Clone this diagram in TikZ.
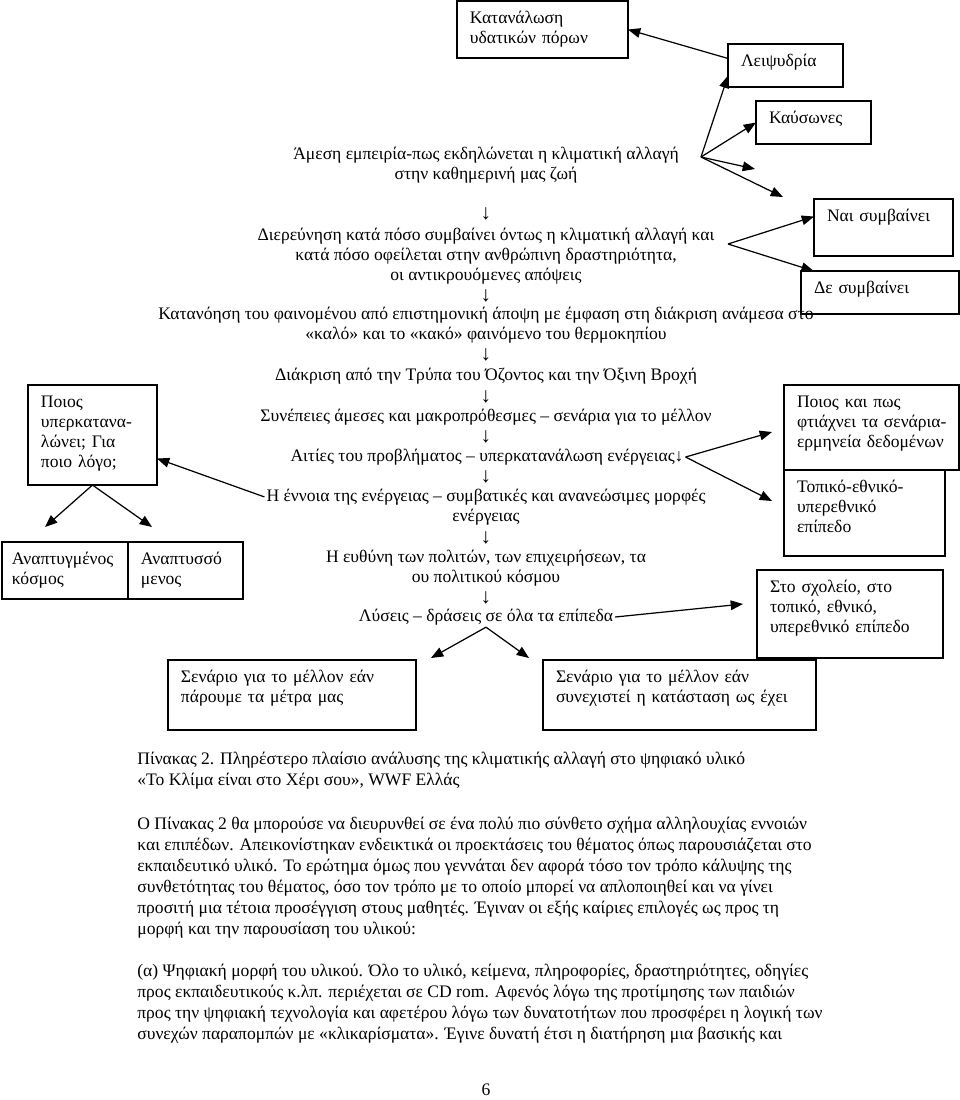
\documentclass[tikz,border=0pt]{standalone}
\usepackage{fontspec}
\setmainfont{Liberation Serif}
\usepackage{tikz}
\usetikzlibrary{arrows.meta, positioning, calc}
\newcommand{\diagfont}{\fontsize{10pt}{11.4pt}\selectfont}
\newcommand{\bodyfont}{\fontsize{10pt}{12pt}\selectfont}
\tikzset{
  cell/.style={rectangle, draw, line width=0.75pt, anchor=north west, align=left,
    inner xsep=0.26cm, inner ysep=0.16cm, outer sep=0pt, text height=8pt, font=\diagfont},
  stage/.style={align=center, inner sep=1pt, font=\diagfont},
  down/.style={inner sep=0pt, font=\fontsize{12pt}{12pt}\selectfont},
  para/.style={anchor=base west, inner sep=0pt, font=\bodyfont},
  arrow/.style={-{Triangle[length=7pt,width=5.5pt]}, line width=0.7pt}
}

\begin{document}
\begin{tikzpicture}[x=0.02cm, y=-0.02cm]
  \useasboundingbox (0,0) rectangle (960,1100);

  % Main column
  \node[stage] (amesi) at (486,165) {Άμεση εμπειρία-πως εκδηλώνεται η κλιματική αλλαγή\\στην καθημερινή μας ζωή};
  \node[down] (d1) at (486,214) {↓};
  \node[stage] (dier) at (486,256) {Διερεύνηση κατά πόσο συμβαίνει όντως η κλιματική αλλαγή και\\κατά πόσο οφείλεται στην ανθρώπινη δραστηριότητα,\\οι αντικρουόμενες απόψεις};
  \node[down] (d2) at (486,296) {↓};
  \node[stage] (katanoisi) at (486,325) {Κατανόηση του φαινομένου από επιστημονική άποψη με έμφαση στη διάκριση ανάμεσα στο\\«καλό» και το «κακό» φαινόμενο του θερμοκηπίου};
  \node[down] (d3) at (486,355) {↓};
  \node[stage] (diakrisi) at (486,376) {Διάκριση από την Τρύπα του Όζοντος και την Όξινη Βροχή};
  \node[down] (d4) at (486,397) {↓};
  \node[stage] (synepeies) at (486,417) {Συνέπειες άμεσες και μακροπρόθεσμες – σενάρια για το μέλλον};
  \node[down] (d5) at (486,437) {↓};
  \node[stage] (aities) at (487,457) {Αιτίες του προβλήματος – υπερκατανάλωση ενέργειας↓};
  \node[down] (d6) at (486,477) {↓};
  \node[stage] (ennoia) at (486,507) {Η έννοια της ενέργειας – συμβατικές και ανανεώσιμες μορφές\\ενέργειας};
  \node[down] (d7) at (486,538) {↓};
  \node[stage] (efthyni) at (486,568) {Η ευθύνη των πολιτών, των επιχειρήσεων, τα\\ου πολιτικού κόσμου};
  \node[down] (d8) at (486,598) {↓};
  \node[stage] (lyseis) at (486,617) {Λύσεις – δράσεις σε όλα τα επίπεδα};

  % Boxes
  \node[cell, text width=2.9cm, text depth=0.54cm] (katan) at (457,1) {Κατανάλωση\\υδατικών πόρων};
  \node[cell, text width=1.78cm, text depth=0.26cm] (leips) at (728,44) {Λειψυδρία};
  \node[cell, text width=1.78cm, text depth=0.26cm] (kafs) at (756,101) {Καύσωνες};
  \node[cell, text width=2.26cm, text depth=0.54cm] (nai) at (814,199) {Ναι συμβαίνει};
  \node[cell, text width=2.64cm, text depth=0.26cm] (de) at (801,271) {Δε συμβαίνει};
  \node[cell, text width=2.06cm, text depth=1.4cm] (poios) at (28,385) {Ποιος\\\mbox{υπερκατανα-}\\\mbox{λώνει; Για}\\\mbox{ποιο λόγο;}};
  \node[cell, text width=2.12cm, text depth=0.54cm, inner xsep=0.2cm] (anapt) at (2,542) {\mbox{Αναπτυγμένος}\\κόσμος};
  \node[cell, text width=1.78cm, text depth=0.54cm] (anaptsso) at (anapt.north east) {\mbox{Αναπτυσσό}\\μενος};
  \node[cell, text width=2.98cm, text depth=1.1cm] (poioskai) at (784,385) {\mbox{Ποιος και πως}\\\mbox{φτιάχνει τα σενάρια-}\\\mbox{ερμηνεία δεδομένων}};
  \node[cell, text width=2.7cm, text depth=1.12cm] (topiko) at (784,470) {\mbox{Τοπικό-εθνικό-}\\υπερεθνικό\\επίπεδο};
  \node[cell, text width=3.2cm, text depth=1.16cm] (sxoleio) at (757,570) {\mbox{Στο σχολείο, στο}\\\mbox{τοπικό, εθνικό,}\\\mbox{υπερεθνικό επίπεδο}};
  \node[cell, text width=4.44cm, text depth=0.8cm] (senA) at (168,660) {\mbox{Σενάριο για το μέλλον εάν}\\\mbox{πάρουμε τα μέτρα μας}};
  \node[cell, text width=4.94cm, text depth=0.8cm] (senB) at (543,660) {\mbox{Σενάριο για το μέλλον εάν}\\\mbox{συνεχιστεί η κατάσταση ως έχει}};

  % Free ends and fan points
  \coordinate (fanA) at (701,157);
  \coordinate (fanB) at (728,244);
  \coordinate (tipA1) at (755,169);
  \coordinate (tipA2) at (783,197);
  \coordinate (tipC1) at (772,432);
  \coordinate (tipC2) at (772,501);
  \coordinate (tipD) at (743,604);
  \coordinate (tipE1) at (431,658);
  \coordinate (tipE2) at (529,658);
  \coordinate (tipF1) at (45,527);
  \coordinate (tipF2) at (152,527);

  % Arrows
  \draw[arrow] (fanA) -- (leips.190);
  \draw[arrow] (fanA) -- (kafs.west);
  \draw[arrow] (fanA) -- (tipA1);
  \draw[arrow] (fanA) -- (tipA2);
  \draw[arrow] (leips.173) -- (katan.east);
  \draw[arrow] (fanB) -- (nai.171);
  \draw[arrow] (fanB) -- (de.162);
  \draw[arrow] ($(ennoia.north west)!0.25!(ennoia.south west)$) -- (poios.340);
  \draw[arrow] (aities.east) -- (tipC1);
  \draw[arrow] (aities.east) -- (tipC2);
  \draw[arrow] (lyseis.east) -- (tipD);
  \draw[arrow] (lyseis.south) -- (tipE1);
  \draw[arrow] (lyseis.south) -- (tipE2);
  \draw[arrow] (poios.south) -- (tipF1);
  \draw[arrow] (poios.south) -- (tipF2);

  % Caption and text
  \node[para] (cap1) at (137,764) {Πίνακας 2. Πληρέστερο πλαίσιο ανάλυσης της κλιματικής αλλαγή στο ψηφιακό υλικό};
  \node[para] (cap2) at (137,785) {«Το Κλίμα είναι στο Χέρι σου», WWF Ελλάς};
  \node[para] (p1) at (137,829) {Ο Πίνακας 2 θα μπορούσε να διευρυνθεί σε ένα πολύ πιο σύνθετο σχήμα αλληλουχίας εννοιών};
  \node[para] (p2) at (137,850) {και επιπέδων. Απεικονίστηκαν ενδεικτικά οι προεκτάσεις του θέματος όπως παρουσιάζεται στο};
  \node[para] (p3) at (137,871) {εκπαιδευτικό υλικό. Το ερώτημα όμως που γεννάται δεν αφορά τόσο τον τρόπο κάλυψης της};
  \node[para] (p4) at (137,892) {συνθετότητας του θέματος, όσο τον τρόπο με το οποίο μπορεί να απλοποιηθεί και να γίνει};
  \node[para] (p5) at (137,913) {προσιτή μια τέτοια προσέγγιση στους μαθητές. Έγιναν οι εξής καίριες επιλογές ως προς τη};
  \node[para] (p6) at (137,934) {μορφή και την παρουσίαση του υλικού:};
  \node[para] (q1) at (137,976) {(α) Ψηφιακή μορφή του υλικού. Όλο το υλικό, κείμενα, πληροφορίες, δραστηριότητες, οδηγίες};
  \node[para] (q2) at (137,997) {προς εκπαιδευτικούς κ.λπ. περιέχεται σε CD rom. Αφενός λόγω της προτίμησης των παιδιών};
  \node[para] (q3) at (137,1018) {προς την ψηφιακή τεχνολογία και αφετέρου λόγω των δυνατοτήτων που προσφέρει η λογική των};
  \node[para] (q4) at (137,1039) {συνεχών παραπομπών με «κλικαρίσματα». Έγινε δυνατή έτσι η διατήρηση μια βασικής και};
  \node[para, anchor=center] (pagenum) at (486,1090) {6};
\end{tikzpicture}
\end{document}
